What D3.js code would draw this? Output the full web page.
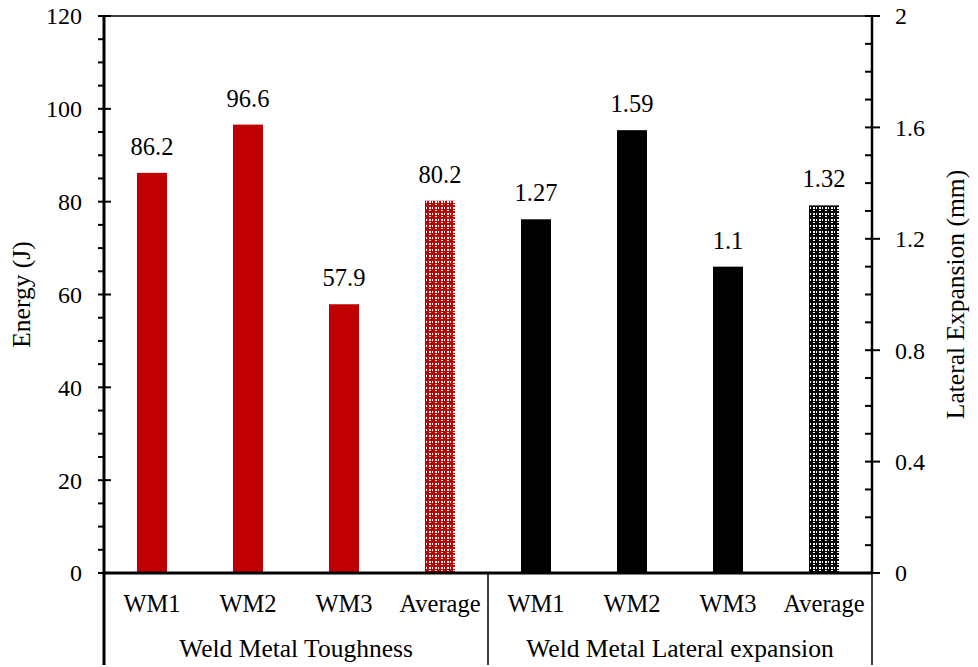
<!DOCTYPE html>
<html>
<head>
<meta charset="utf-8">
<script src="https://cdn.jsdelivr.net/npm/d3@7"></script>
<style>
  html, body { margin: 0; padding: 0; background: #fff; }
  svg { display: block; }
  svg text { font-family: "Liberation Serif", "Times New Roman", Times, "DejaVu Serif", serif; }
</style>
</head>
<body>
<svg id="chart" width="978" height="667" font-family="Liberation Serif, Times New Roman, serif"></svg>
<script>
// Charpy results for three weld metal samples and their average
const categories = ["WM1", "WM2", "WM3", "Average", "WM1 ", "WM2 ", "WM3 ", "Average "];
const categoryLabels = ["WM1", "WM2", "WM3", "Average", "WM1", "WM2", "WM3", "Average"];
const groups = ["Weld Metal Toughness", "Weld Metal Lateral expansion"];
const toughness = [86.2, 96.6, 57.9, 80.2];          // J, left axis
const lateralExpansion = [1.27, 1.59, 1.1, 1.32];    // mm, right axis
const energyTicks = [0, 20, 40, 60, 80, 100, 120];
const expansionTicks = [0, 0.4, 0.8, 1.2, 1.6, 2];

const svg = d3.select("#chart");
const plotLeft = 104, plotRight = 872, plotTop = 16, plotBottom = 573;
const red = "#C00000";
const serif = "'Liberation Serif', 'Times New Roman', Times, serif";

const x = d3.scaleBand().domain(categories).range([plotLeft, plotRight]).paddingInner(0).paddingOuter(0);
const barW = 30;
const yL = d3.scaleLinear().domain([0, 120]).range([plotBottom, plotTop]);
const yR = d3.scaleLinear().domain([0, 2]).range([plotBottom, plotTop]);

// fill patterns for the average bars
const defs = svg.append("defs");
function makePattern(id, color) {
  const p = defs.append("pattern").attr("id", id).attr("patternUnits", "userSpaceOnUse")
    .attr("width", 6).attr("height", 6);
  p.append("rect").attr("width", 6).attr("height", 6).attr("fill", color);
  p.append("rect").attr("x", 3).attr("y", 3).attr("width", 2).attr("height", 2).attr("fill", "#fff");
  p.append("rect").attr("x", 0).attr("y", 3).attr("width", 1).attr("height", 2).attr("fill", "#fff");
  p.append("rect").attr("x", 3).attr("y", 0).attr("width", 2).attr("height", 1).attr("fill", "#fff");
}
makePattern("redCheck", red);
makePattern("blackCheck", "#000");

const fsTick = 24, fsCat = 24.5, fsTitle = 25.5;

// bars
const rows = [];
toughness.forEach((v, i) => rows.push({ cat: categories[i], v, y: yL, fill: i === 3 ? "url(#redCheck)" : red, label: String(v) }));
lateralExpansion.forEach((v, i) => rows.push({ cat: categories[i + 4], v, y: yR, fill: i === 3 ? "url(#blackCheck)" : "#000", label: String(v) }));

svg.append("g").selectAll("rect").data(rows).join("rect")
  .attr("x", d => x(d.cat) + x.bandwidth() / 2 - barW / 2)
  .attr("y", d => d.y(d.v))
  .attr("width", barW)
  .attr("height", d => plotBottom - d.y(d.v))
  .attr("fill", d => d.fill);

svg.append("g").selectAll("text").data(rows).join("text")
  .attr("x", d => x(d.cat) + x.bandwidth() / 2)
  .attr("y", d => d.y(d.v) - 18)
  .attr("text-anchor", "middle")
  .attr("font-size", fsCat)
  .attr("font-family", serif)
  .attr("fill", "#000")
  .text(d => d.label);

// top frame line
svg.append("line").attr("x1", plotLeft).attr("x2", plotRight).attr("y1", plotTop).attr("y2", plotTop)
  .attr("stroke", "#000").attr("stroke-width", 1.5);

// left axis: major ticks cross the line, minor ticks outside
const gL = svg.append("g");
gL.selectAll(".minor").data(d3.range(0, 121, 5).filter(v => v % 20 !== 0)).join("line")
  .attr("x1", plotLeft - 6).attr("x2", plotLeft).attr("y1", d => yL(d)).attr("y2", d => yL(d))
  .attr("stroke", "#000").attr("stroke-width", 2);
gL.selectAll(".major").data(energyTicks).join("line")
  .attr("x1", plotLeft - 6).attr("x2", plotLeft + 7).attr("y1", d => yL(d)).attr("y2", d => yL(d))
  .attr("stroke", "#000").attr("stroke-width", 2);
gL.selectAll("text").data(energyTicks).join("text")
  .attr("x", plotLeft - 22).attr("y", d => yL(d)).attr("dy", "0.35em")
  .attr("text-anchor", "end").attr("font-size", fsTick).attr("font-family", serif).text(d => d);
gL.append("line").attr("x1", plotLeft).attr("x2", plotLeft).attr("y1", plotTop - 1).attr("y2", 665)
  .attr("stroke", "#000").attr("stroke-width", 3);

// right axis: major ticks cross, minor ticks inside
const gR = svg.append("g");
gR.selectAll(".minor").data(d3.range(1, 20).filter(v => v % 4 !== 0).map(v => v / 10)).join("line")
  .attr("x1", plotRight - 7).attr("x2", plotRight).attr("y1", d => yR(d)).attr("y2", d => yR(d))
  .attr("stroke", "#000").attr("stroke-width", 2);
gR.selectAll(".major").data(expansionTicks).join("line")
  .attr("x1", plotRight - 7).attr("x2", plotRight + 8).attr("y1", d => yR(d)).attr("y2", d => yR(d))
  .attr("stroke", "#000").attr("stroke-width", 2);
gR.selectAll("text").data(expansionTicks).join("text")
  .attr("x", plotRight + 23).attr("y", d => yR(d)).attr("dy", "0.35em")
  .attr("text-anchor", "start").attr("font-size", fsTick).attr("font-family", serif).text(d => d);
gR.append("line").attr("x1", plotRight).attr("x2", plotRight).attr("y1", plotTop - 1).attr("y2", plotBottom)
  .attr("stroke", "#000").attr("stroke-width", 2.5);
gR.append("line").attr("x1", plotRight).attr("x2", plotRight).attr("y1", plotBottom).attr("y2", 665)
  .attr("stroke", "#000").attr("stroke-width", 1.5);

// category axis
svg.append("line").attr("x1", plotLeft).attr("x2", plotRight).attr("y1", plotBottom).attr("y2", plotBottom)
  .attr("stroke", "#000").attr("stroke-width", 3);
svg.append("g").selectAll("text").data(categories).join("text")
  .attr("x", d => x(d) + x.bandwidth() / 2).attr("y", 612)
  .attr("text-anchor", "middle").attr("font-size", fsCat).attr("font-family", serif)
  .text((d, i) => categoryLabels[i]);

// group divider and group labels
svg.append("line").attr("x1", x(categories[4])).attr("x2", x(categories[4]))
  .attr("y1", plotBottom).attr("y2", 665).attr("stroke", "#000").attr("stroke-width", 1.5);
svg.append("g").selectAll("text").data(groups).join("text")
  .attr("x", (d, i) => (x(categories[i * 4]) + x(categories[i * 4 + 3]) + x.bandwidth()) / 2)
  .attr("y", 657).attr("text-anchor", "middle").attr("font-size", fsTitle).attr("font-family", serif).text(d => d);

// axis titles
svg.append("text").attr("transform", `translate(30,${(plotTop + plotBottom) / 2}) rotate(-90)`)
  .attr("text-anchor", "middle").attr("font-size", fsTitle).attr("font-family", serif).text("Energy (J)");
svg.append("text").attr("transform", `translate(964,${(plotTop + plotBottom) / 2}) rotate(-90)`)
  .attr("text-anchor", "middle").attr("font-size", fsTitle).attr("font-family", serif).text("Lateral Expansion (mm)");
</script>
</body>
</html>
